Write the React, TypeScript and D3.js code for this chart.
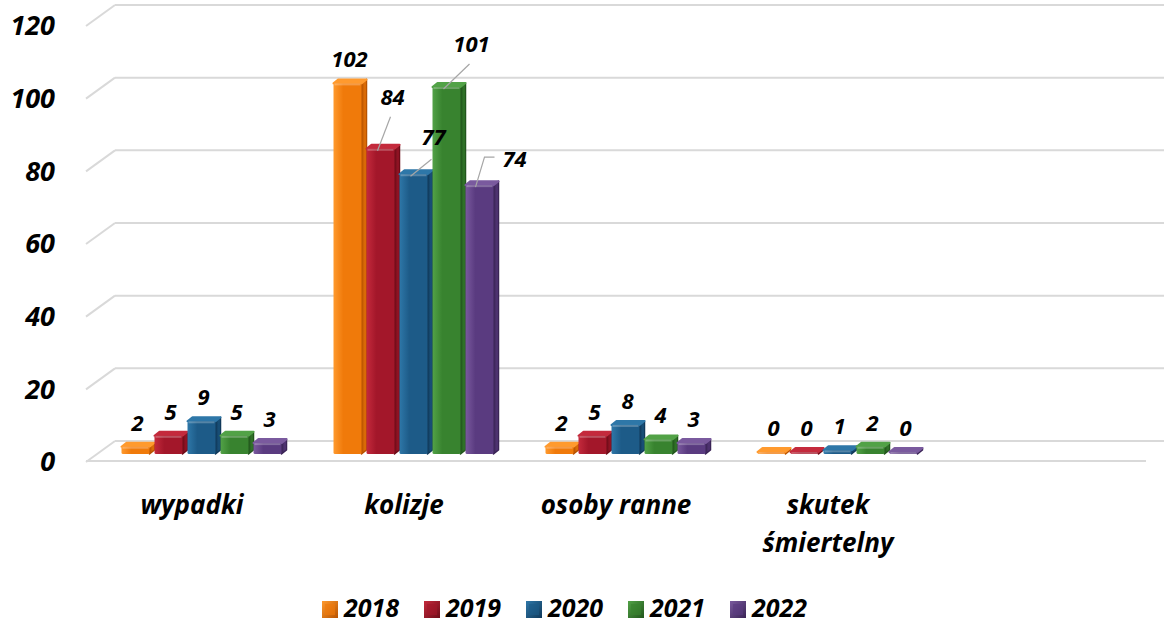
import React from "react";
import * as d3 from "d3";

const categories = ["wypadki", "kolizje", "osoby ranne", "skutek śmiertelny", ""];
const years = ["2018", "2019", "2020", "2021", "2022"];
const v2018 = [2, 102, 2, 0];
const v2019 = [5, 84, 5, 0];
const v2020 = [9, 77, 8, 1];
const v2021 = [5, 101, 4, 2];
const v2022 = [3, 74, 3, 0];
const series = [v2018, v2019, v2020, v2021, v2022];
const yTicks = [0, 20, 40, 60, 80, 100, 120];

// colours: [light, mid, dark]
const palette = [
  ["#ff9a2e", "#f07a0a", "#b85300"],
  ["#c42a3c", "#a3172a", "#6e0c18"],
  ["#2e77a8", "#1d5b88", "#10395a"],
  ["#52a247", "#38832f", "#22561c"],
  ["#7a5a9e", "#5a3b80", "#3a2456"],
];

// label offsets (dx, dy) for the crowded 'kolizje' group
const kolizjeLabelOffsets = [
  [0, 0],
  [10, -28],
  [18, -13],
  [23, -19],
  [33, -2],
];

const W = 1164;
const H = 623;
const FONT = "'Open Sans', 'Liberation Sans', sans-serif";

export default function App() {
  const frontLeft = 86;
  const frontRight = 1146;
  const depthX = 29;
  const depthY = 20;
  const yBack = d3.scaleLinear().domain([0, 120]).range([441, 5]);
  const barBase = 454;
  const k = (441 - 5) / 120;

  const xBand = d3.scaleBand().domain(categories.map((c, i) => String(i))).range([frontLeft, frontRight]).padding(0);
  const slot = 33;
  const inner = d3.scaleBand().domain(years).range([0, slot * 5]).padding(0);

  const fw = 28;
  const sd = 5;
  const sdy = 4;

  const bars: any[] = [];
  categories.forEach((c, ci) => {
    if (ci >= 4) return;
    const center = (xBand(String(ci)) as number) + xBand.bandwidth() / 2 + 12;
    const start = center - (slot * 5) / 2;
    years.forEach((yr, si) => {
      const v = series[si][ci];
      const x0 = start + (inner(yr) as number);
      const h = Math.max(v * k, 2);
      const top = barBase - h;
      bars.push({ ci, si, v, x0, top });
    });
  });

  return (
    <svg width={W} height={H} style={{ position: "absolute", left: 0, top: 0, background: "#fff" }}>
      <defs>
        {palette.map((p, i) => (
          <g key={i}>
            <linearGradient id={`front${i}`} x1="0" x2="1" y1="0" y2="0">
              <stop offset="0" stopColor={p[0]} />
              <stop offset="0.35" stopColor={p[1]} />
              <stop offset="1" stopColor={p[1]} />
            </linearGradient>
            <linearGradient id={`side${i}`} x1="0" x2="1" y1="0" y2="0">
              <stop offset="0" stopColor={p[2]} />
              <stop offset="1" stopColor={p[1]} />
            </linearGradient>
            <linearGradient id={`leg${i}`} x1="0" x2="1" y1="0" y2="1">
              <stop offset="0" stopColor={p[0]} />
              <stop offset="1" stopColor={p[2]} />
            </linearGradient>
          </g>
        ))}
      </defs>

      {/* gridlines */}
      {yTicks.map((t) => {
        const yb = yBack(t);
        return (
          <g key={t} stroke="#d9d9d9" strokeWidth={2} fill="none">
            <line x1={frontLeft + depthX} x2={W} y1={yb} y2={yb} />
            <line x1={frontLeft} y1={yb + depthY + 1} x2={frontLeft + depthX} y2={yb} />
          </g>
        );
      })}
      <line x1={frontLeft} x2={frontRight} y1={461} y2={461} stroke="#d9d9d9" strokeWidth={2} />

      {/* y tick labels */}
      {yTicks.map((t) => (
        <text
          key={t}
          x={55}
          y={yBack(t) + 21}
          dy="0.35em"
          textAnchor="end"
          fontFamily={FONT}
          fontWeight={700}
          fontStyle="italic"
          fontSize={27}
          fill="#000"
        >
          {t}
        </text>
      ))}

      {/* bars */}
      {bars.map((b, i) => {
        const { x0, top, si } = b;
        const p = palette[si];
        const side = `M${x0 + fw},${top} L${x0 + fw + sd},${top - sdy} L${x0 + fw + sd},${barBase - sdy} L${x0 + fw},${barBase} Z`;
        const topFace = `M${x0},${top} L${x0 + sd},${top - sdy} L${x0 + fw + sd},${top - sdy} L${x0 + fw},${top} Z`;
        return (
          <g key={i} strokeLinejoin="round">
            <path d={side} fill={`url(#side${si})`} stroke={p[2]} strokeWidth={1.5} />
            <path d={topFace} fill={p[0]} stroke={p[0]} strokeWidth={2} />
            <rect x={x0} y={top} width={fw} height={barBase - top} fill={`url(#front${si})`} rx={1.5} />
            <line x1={x0 + 1} x2={x0 + fw - 1} y1={top + 1} y2={top + 1} stroke="#fff" strokeOpacity={0.25} strokeWidth={2} />
          </g>
        );
      })}

      {/* data labels */}
      {bars.map((b, i) => {
        const cx = b.x0 + fw / 2 + 2;
        let lx = cx;
        let ly = b.top - 16;
        let leader: string | null = null;
        if (b.ci === 1) {
          const [dx, dy] = kolizjeLabelOffsets[b.si];
          lx += dx;
          ly += dy;
          if (dx !== 0 || dy !== 0) {
            const sx = b.x0 + fw / 2;
            const sy = b.top + 2;
            if (b.si === 4) {
              leader = `M${sx - 4},${sy} L${lx - 30},${ly - 10} L${lx - 20},${ly - 10}`;
            } else if (b.si === 2) {
              leader = `M${sx - 3},${sy} L${lx - 2},${ly + 14}`;
            } else {
              leader = `M${sx - 3},${sy} L${lx - 2},${ly + 12}`;
            }
          }
        }
        return (
          <g key={i}>
            {leader && <path d={leader} fill="none" stroke="#a6a6a6" strokeWidth={1.2} />}
            <text
              x={lx}
              y={ly}
              textAnchor="middle"
              fontFamily={FONT}
              fontWeight={700}
              fontStyle="italic"
              fontSize={22}
              fill="#000"
            >
              {b.v}
            </text>
          </g>
        );
      })}

      {/* category labels */}
      {categories.map((c, ci) => {
        if (!c) return null;
        const cx = (xBand(String(ci)) as number) + xBand.bandwidth() / 2;
        const lines = c === "skutek śmiertelny" ? ["skutek", "śmiertelny"] : [c];
        return (
          <text
            key={ci}
            x={cx}
            y={514}
            textAnchor="middle"
            fontFamily={FONT}
            fontWeight={700}
            fontStyle="italic"
            fontSize={26}
            fill="#000"
          >
            {lines.map((l, li) => (
              <tspan key={li} x={cx} dy={li === 0 ? 0 : 38}>
                {l}
              </tspan>
            ))}
          </text>
        );
      })}

      {/* legend */}
      {years.map((yr, i) => {
        const lx = 322 + i * 102;
        return (
          <g key={yr}>
            <rect x={lx} y={601} width={16} height={17} fill={`url(#leg${i})`} />
            <rect x={lx + 3} y={604} width={10} height={11} fill={palette[i][1]} opacity={0.6} />
            <text
              x={lx + 22}
              y={617}
              fontFamily={FONT}
              fontWeight={700}
              fontStyle="italic"
              fontSize={25}
              fill="#000"
            >
              {yr}
            </text>
          </g>
        );
      })}
    </svg>
  );
}
